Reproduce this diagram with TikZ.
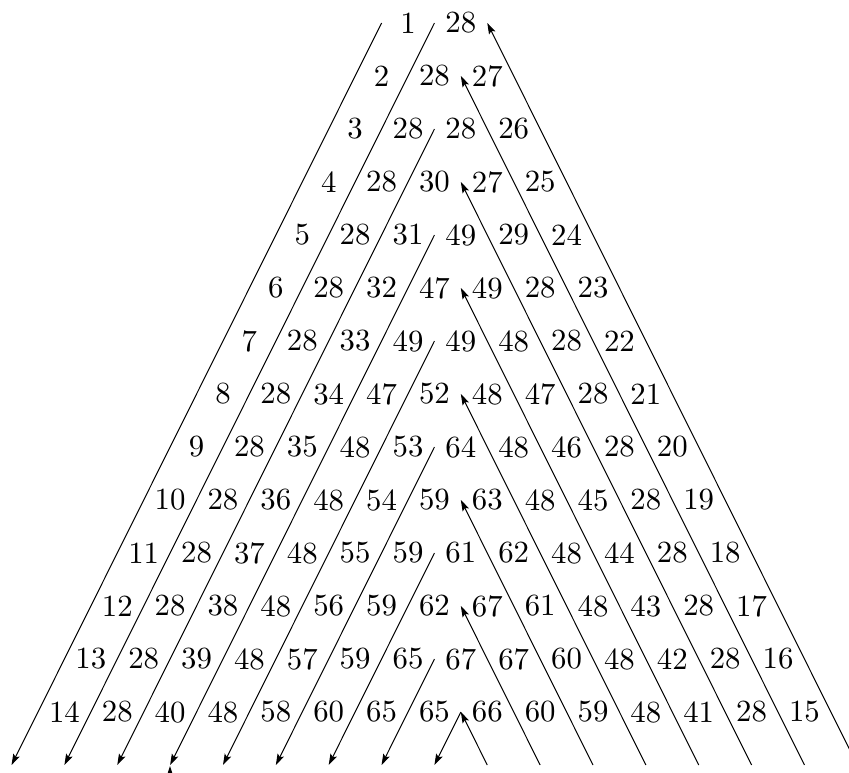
\documentclass[tikz,border=0pt]{standalone}
\usetikzlibrary{arrows.meta}
\begin{document}
\begin{tikzpicture}[x=1pt,y=-1pt,
  num/.style={inner sep=0pt, font=\fontsize{10}{12}\selectfont, scale=3.08},
  lat/.style={line width=1pt},
  tipend/.style={-{Stealth[length=11pt,width=7pt,inset=2pt]}}]
\useasboundingbox (0,0) rectangle (849,772);
\def\hh{52.86}
\def\vv{53}
% lattice midpoints between entries
\foreach \i in {1,...,15} {
  \foreach \k in {0,...,16} {
    \coordinate (m-\i-\k) at ({408 + (\k - (\i-1)/2)*\hh - \hh/2}, {23 + (\i-1)*\vv});
  }
}
% numbers
\foreach \row [count=\i] in {
  {1,28},
  {2,28,27},
  {3,28,28,26},
  {4,28,30,27,25},
  {5,28,31,49,29,24},
  {6,28,32,47,49,28,23},
  {7,28,33,49,49,48,28,22},
  {8,28,34,47,52,48,47,28,21},
  {9,28,35,48,53,64,48,46,28,20},
  {10,28,36,48,54,59,63,48,45,28,19},
  {11,28,37,48,55,59,61,62,48,44,28,18},
  {12,28,38,48,56,59,62,67,61,48,43,28,17},
  {13,28,39,48,57,59,65,67,67,60,48,42,28,16},
  {14,28,40,48,58,60,65,65,66,60,59,48,41,28,15}} {
  \foreach \val [count=\jj] in \row {
    \node[num] (n-\i-\jj) at ({408 + (\jj - 1 - (\i-1)/2)*\hh}, {23 + (\i-1)*\vv}) {\val};
  }
}
% lines going down-left
\foreach \k/\s in {0/1,1/1,2/3,3/5,4/7,5/9,6/11,7/13,8/14}
  \draw[lat,tipend] (m-\s-\k) -- (m-15-\k);
% lines going up-left
\foreach \t/\kt/\kb in {1/2/16,2/2/15,4/3/14,6/4/13,8/5/12,10/6/11,12/7/10,14/8/9}
  \draw[lat,tipend] (m-15-\kb) -- (m-\t-\kt);
% small tip at the bottom edge
\coordinate (bs) at (170,790);
\coordinate (be) at (170,766);
\draw[lat,tipend] (bs) -- (be);
\end{tikzpicture}
\end{document}
